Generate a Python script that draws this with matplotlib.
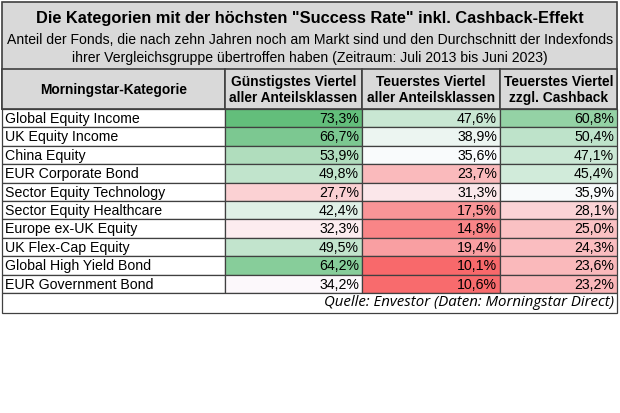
import numpy as np
import matplotlib.pyplot as plt
from matplotlib.patches import Rectangle
from matplotlib.colors import LinearSegmentedColormap, TwoSlopeNorm

# Table content
title = 'Die Kategorien mit der höchsten "Success Rate" inkl. Cashback-Effekt'
subtitle = ("Anteil der Fonds, die nach zehn Jahren noch am Markt sind und den Durchschnitt der Indexfonds\n"
            "ihrer Vergleichsgruppe übertroffen haben (Zeitraum: Juli 2013 bis Juni 2023)")
headers = ["Morningstar-Kategorie",
           "Günstigstes Viertel\naller Anteilsklassen",
           "Teuerstes Viertel\naller Anteilsklassen",
           "Teuerstes Viertel\nzzgl. Cashback"]
categories = ["Global Equity Income", "UK Equity Income", "China Equity",
              "EUR Corporate Bond", "Sector Equity Technology",
              "Sector Equity Healthcare", "Europe ex-UK Equity",
              "UK Flex-Cap Equity", "Global High Yield Bond", "EUR Government Bond"]
cheapest = [73.3, 66.7, 53.9, 49.8, 27.7, 42.4, 32.3, 49.5, 64.2, 34.2]
priciest = [47.6, 38.9, 35.6, 23.7, 31.3, 17.5, 14.8, 19.4, 10.1, 10.6]
cashback = [60.8, 50.4, 47.1, 45.4, 35.9, 28.1, 25.0, 24.3, 23.6, 23.2]
source = "Quelle: Envestor (Daten: Morningstar Direct)"

plt.rcParams['font.family'] = ['Liberation Sans', 'DejaVu Sans']

# Excel-like red / white / green scale over all values, midpoint = median
values = np.array([cheapest, priciest, cashback]).T
cmap = LinearSegmentedColormap.from_list("rwg", ["#f8696b", "#fcfcff", "#63be7b"])
norm = TwoSlopeNorm(vmin=values.min(), vcenter=np.median(values), vmax=values.max())

fig = plt.figure(figsize=(6.2, 4.13), dpi=100)
ax = fig.add_axes([0, 0, 1, 1])
ax.set_xlim(0, 620)
ax.set_ylim(413, 0)
ax.axis("off")

grey = "#d9d9d9"
line = "#404040"
col_x = [2, 225, 362, 500, 617]
top, title_bot, head_bot = 2, 69, 109
row_h = 18.4
foot_top = head_bot + row_h * len(categories)
foot_bot = foot_top + 20

# title block
ax.add_patch(Rectangle((col_x[0], top), col_x[-1] - col_x[0], head_bot - top,
                       facecolor=grey, edgecolor=line, lw=1.2))
ax.text(310, 19, title, ha="center", va="center", fontsize=11.8, fontweight="bold")
ax.text(310, 49, subtitle, ha="center", va="center", fontsize=10.1, linespacing=1.3)

# header row
for i, h in enumerate(headers):
    ax.add_patch(Rectangle((col_x[i], title_bot), col_x[i + 1] - col_x[i], head_bot - title_bot,
                           facecolor=grey, edgecolor=line, lw=1.2))
    ax.text((col_x[i] + col_x[i + 1]) / 2, (title_bot + head_bot) / 2 + 1, h,
            ha="center", va="center", fontsize=9.9, fontweight="bold", linespacing=1.2)

# data rows
for r, cat in enumerate(categories):
    y0 = head_bot + r * row_h
    ax.add_patch(Rectangle((col_x[0], y0), col_x[1] - col_x[0], row_h,
                           facecolor="white", edgecolor=line, lw=0.9))
    ax.text(col_x[0] + 3, y0 + row_h / 2 + 0.8, cat, ha="left", va="center", fontsize=10.2)
    for c in range(3):
        v = values[r, c]
        ax.add_patch(Rectangle((col_x[c + 1], y0), col_x[c + 2] - col_x[c + 1], row_h,
                               facecolor=cmap(norm(v)), edgecolor=line, lw=0.9))
        ax.text(col_x[c + 2] - 3, y0 + row_h / 2 + 0.8, f"{v:.1f}%".replace(".", ","),
                ha="right", va="center", fontsize=10.2)

# footer
ax.add_patch(Rectangle((col_x[0], foot_top), col_x[-1] - col_x[0], foot_bot - foot_top,
                       facecolor="white", edgecolor=line, lw=0.9))
ax.text(col_x[-1] - 3, (foot_top + foot_bot) / 2, source, ha="right", va="center",
        fontsize=10.8, style="italic", family=["Open Sans", "DejaVu Sans"])

fig.savefig("out.png", dpi=100)
